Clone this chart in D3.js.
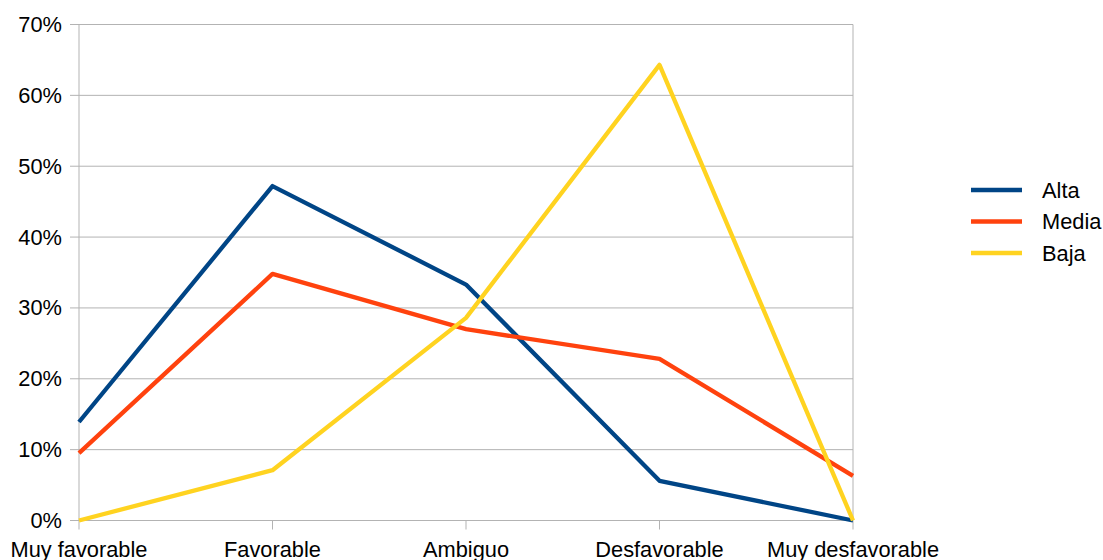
<!DOCTYPE html>
<html>
<head>
<meta charset="utf-8">
<script src="https://cdn.jsdelivr.net/npm/d3@7"></script>
<style>
  html, body { margin: 0; padding: 0; background: #fff; }
  svg text { font-family: "Liberation Sans", Arial, sans-serif; fill: #000; }
</style>
</head>
<body>
<svg id="chart" width="1103" height="560"></svg>
<script>
// Valoración por categoría, en porcentaje
const categories = ["Muy favorable", "Favorable", "Ambiguo", "Desfavorable", "Muy desfavorable"];
const alta  = [13.9, 47.2, 33.3, 5.6, 0];
const media = [9.5, 34.8, 27.0, 22.8, 6.3];
const baja  = [0, 7.1, 28.6, 64.3, 0];
const seriesNames = ["Alta", "Media", "Baja"];
const seriesColors = ["#004586", "#ff420e", "#ffd320"];
const yTicks = [0, 10, 20, 30, 40, 50, 60, 70];

const series = [alta, media, baja].map((values, i) => ({
  name: seriesNames[i], color: seriesColors[i], values
}));

const svg = d3.select("#chart");
const margin = { left: 79, right: 250, top: 24.5, bottom: 39.5 };
const W = 1103, H = 560;
const fontSize = 21.8;

const x = d3.scalePoint().domain(categories).range([margin.left, W - margin.right]).padding(0);
const y = d3.scaleLinear().domain([0, 70]).range([H - margin.bottom, margin.top]);

// Líneas horizontales de la cuadrícula
svg.append("g")
  .selectAll("line")
  .data(yTicks)
  .join("line")
  .attr("x1", margin.left - 9)
  .attr("x2", W - margin.right)
  .attr("y1", d => y(d))
  .attr("y2", d => y(d))
  .attr("stroke", "#b3b3b3")
  .attr("stroke-width", 1);

// Bordes verticales del área de trazado
svg.append("g")
  .selectAll("line")
  .data([margin.left, W - margin.right])
  .join("line")
  .attr("x1", d => d).attr("x2", d => d)
  .attr("y1", y(70)).attr("y2", y(0))
  .attr("stroke", "#b3b3b3");

// Marcas del eje de categorías
svg.append("g")
  .selectAll("line")
  .data(categories)
  .join("line")
  .attr("x1", d => x(d)).attr("x2", d => x(d))
  .attr("y1", y(0)).attr("y2", y(0) + 9)
  .attr("stroke", "#b3b3b3");

// Etiquetas del eje Y
svg.append("g")
  .selectAll("text")
  .data(yTicks)
  .join("text")
  .attr("x", 62)
  .attr("y", d => y(d) + 7.5)
  .attr("text-anchor", "end")
  .attr("font-size", fontSize)
  .text(d => d + "%");

// Etiquetas del eje X
svg.append("g")
  .selectAll("text")
  .data(categories)
  .join("text")
  .attr("x", d => x(d))
  .attr("y", 557)
  .attr("text-anchor", "middle")
  .attr("font-size", fontSize)
  .text(d => d);

// Series
const line = d3.line()
  .x((d, i) => x(categories[i]))
  .y(d => y(d));

svg.append("g")
  .selectAll("path")
  .data(series)
  .join("path")
  .attr("d", d => line(d.values))
  .attr("fill", "none")
  .attr("stroke", d => d.color)
  .attr("stroke-width", 4.3)
  .attr("stroke-linejoin", "round");

// Leyenda
const legend = svg.append("g")
  .selectAll("g")
  .data(series)
  .join("g")
  .attr("transform", (d, i) => `translate(971, ${190 + i * 31.5})`);

legend.append("line")
  .attr("x1", 0).attr("x2", 51)
  .attr("stroke", d => d.color)
  .attr("stroke-width", 4.3);

legend.append("text")
  .attr("x", 71)
  .attr("y", 7.5)
  .attr("font-size", fontSize)
  .text(d => d.name);
</script>
</body>
</html>
